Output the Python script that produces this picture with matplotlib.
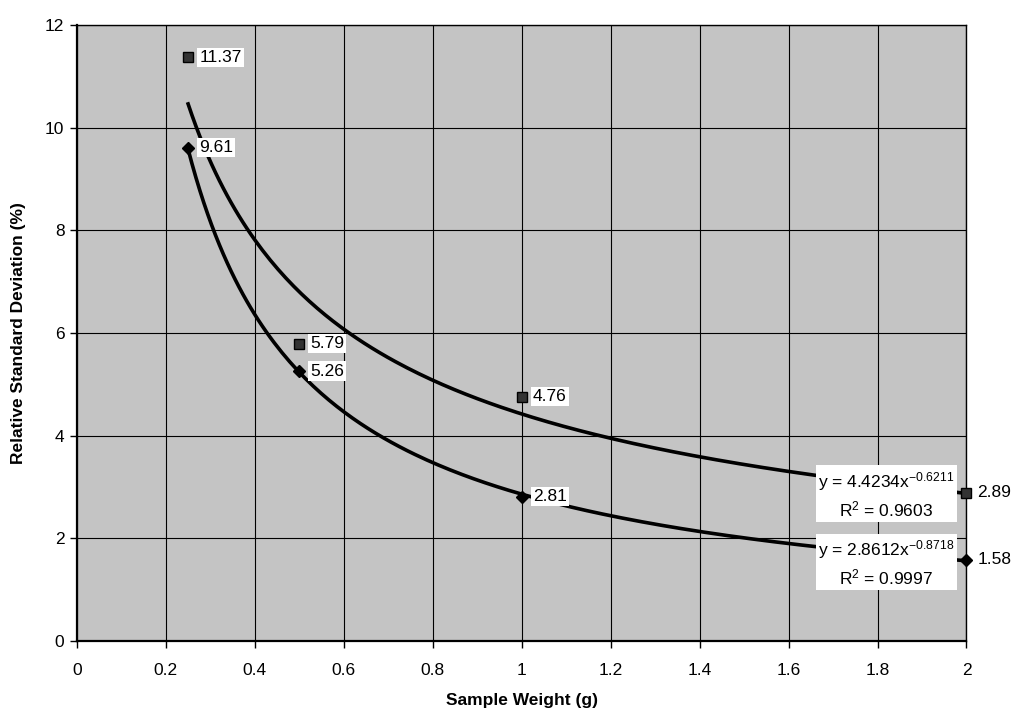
import matplotlib
matplotlib.use("Agg")
import matplotlib.pyplot as plt
import numpy as np

plt.rcParams['font.family'] = ['Liberation Sans', 'DejaVu Sans']
plt.rcParams['mathtext.default'] = 'regular'

# data points
weights = [0.25, 0.5, 1.0, 2.0]
rsd_square = [11.37, 5.79, 4.76, 2.89]
rsd_diamond = [9.61, 5.26, 2.81, 1.58]

# power trendlines y = a * x^b
fit_square = (4.4234, -0.6211, 0.9603)
fit_diamond = (2.8612, -0.8718, 0.9997)

fig = plt.figure(figsize=(10.12, 7.17), dpi=100)
ax = fig.add_axes([0.076, 0.106, 0.879, 0.859])
ax.set_facecolor('#c4c4c4')

xs = np.linspace(0.25, 2.0, 200)
for a, b, r2 in (fit_square, fit_diamond):
    ax.plot(xs, a * xs ** b, color='black', lw=2.6, zorder=3)

ax.plot(weights, rsd_square, ls='none', marker='s', ms=7, mfc='#333333',
        mec='black', mew=1.0, zorder=7, clip_on=False)
ax.plot(weights, rsd_diamond, ls='none', marker='D', ms=6, color='black',
        zorder=7, clip_on=False)

box = dict(facecolor='white', edgecolor='none', pad=1.5)
for x, y in zip(weights, rsd_square):
    ax.annotate(f'{y:.2f}', (x, y), xytext=(8, 0), textcoords='offset points',
                va='center', ha='left', fontsize=12.5, bbox=box, zorder=5,
                annotation_clip=False)
for x, y in zip(weights, rsd_diamond):
    ax.annotate(f'{y:.2f}', (x, y), xytext=(8, 0), textcoords='offset points',
                va='center', ha='left', fontsize=12.5, bbox=box, zorder=5,
                annotation_clip=False)

# equation labels
eq_pos = [(1.82, 2.85), (1.82, 1.52)]
for (a, b, r2), (ex, ey) in zip((fit_square, fit_diamond), eq_pos):
    txt = f'y = {a:.4f}x$^{{{b:.4f}}}$\nR$^2$ = {r2:.4f}'
    ax.text(ex, ey, txt, ha='center', va='center', fontsize=12.5,
            linespacing=1.4, zorder=6,
            bbox=dict(facecolor='white', edgecolor='none', pad=1.5))

ax.set_xlim(0, 2)
ax.set_ylim(0, 12)
ax.set_xticks(np.arange(0, 2.01, 0.2))
ax.set_xticklabels(['0', '0.2', '0.4', '0.6', '0.8', '1', '1.2', '1.4',
                    '1.6', '1.8', '2'])
ax.set_yticks(range(0, 13, 2))
ax.grid(True, color='black', lw=0.8)
ax.set_axisbelow(True)
for s in ax.spines.values():
    s.set_color('black')
    s.set_linewidth(1.0)
ax.spines['bottom'].set_linewidth(1.6)
ax.spines['left'].set_linewidth(1.6)
ax.tick_params(direction='out', length=5, width=1, labelsize=12.5, pad=4)
ax.tick_params(axis='x', pad=11)

ax.set_xlabel('Sample Weight (g)', fontsize=12.5, fontweight='bold',
              va='center')
ax.xaxis.set_label_coords(0.5, -0.096)
ax.set_ylabel('Relative Standard Deviation (%)', fontsize=12.5,
              fontweight='bold', va='center')
ax.yaxis.set_label_coords(-0.066, 0.5)

fig.savefig('out.png', dpi=100)
